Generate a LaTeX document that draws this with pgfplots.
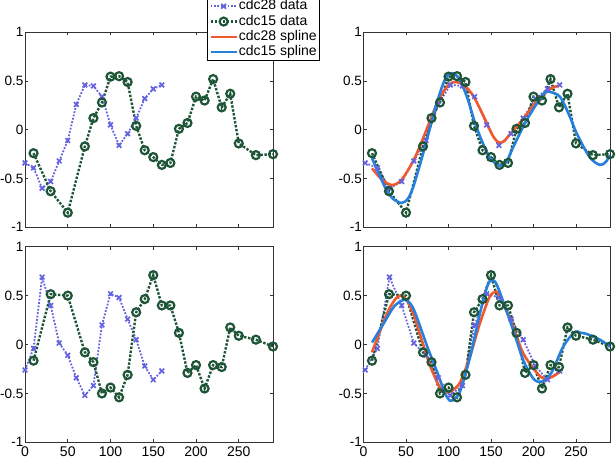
\documentclass[border=0pt]{standalone}
\usepackage{pgfplots}
\usepackage{pgfplotstable}
\pgfplotsset{compat=1.18}
\usepackage{fontspec}
\setmainfont{Liberation Sans}
\definecolor{c28}{RGB}{100,100,225}
\definecolor{c15}{RGB}{30,85,55}
\definecolor{s28}{RGB}{240,88,45}
\definecolor{s15}{RGB}{40,128,222}

% cdc28: t = original time, r = registered time, v = value
\pgfplotstableread{
t r v
0 2 -0.34
10 16.3 -0.39
20 30.6 -0.60
30 44.9 -0.53
40 59.2 -0.32
50 73.5 -0.11
60 87.8 0.26
70 102.1 0.46
80 116.4 0.45
90 130.7 0.34
100 145 0.05
110 159.3 -0.16
120 173.6 -0.04
130 187.9 0.12
140 202.2 0.32
150 216.5 0.42
160 230.8 0.46
}\topA
\pgfplotstableread{
t v
10 -0.24
30 -0.63
50 -0.85
70 -0.17
80 0.12
90 0.28
100 0.545
110 0.55
120 0.49
130 0.04
140 -0.21
150 -0.28
160 -0.36
170 -0.34
180 0.01
190 0.07
200 0.34
210 0.30
220 0.52
230 0.23
240 0.37
250 -0.14
270 -0.26
290 -0.25
}\topB
\pgfplotstableread{
t r v
0 2 -0.26
10 16.3 -0.04
20 30.6 0.69
30 44.9 0.40
40 59.2 0.015
50 73.5 -0.11
60 87.8 -0.34
70 102.1 -0.52
80 116.4 -0.42
90 130.7 0.20
100 145 0.52
110 159.3 0.48
120 173.6 0.26
130 187.9 0.05
140 202.2 -0.22
150 216.5 -0.36
160 230.8 -0.27
}\botA
\pgfplotstableread{
t v
10 -0.165
30 0.515
50 0.50
70 -0.08
80 -0.18
90 -0.50
100 -0.44
110 -0.54
120 -0.31
130 0.33
140 0.465
150 0.71
160 0.40
170 0.40
180 0.12
190 -0.29
200 -0.21
210 -0.45
220 -0.21
230 -0.23
240 0.175
250 0.09
270 0.05
290 -0.02
}\botB
% splines
\pgfplotstableread{
x y
10 -0.395
21.6 -0.51
33.4 -0.566
45 -0.51
61 -0.275
78.6 0.10
88.4 0.31
100 0.46
108 0.49
116 0.47
123.8 0.41
131.6 0.31
143.4 0.10
152 -0.06
159 -0.13
165 -0.12
171 -0.06
186.6 0.10
206.3 0.32
222 0.43
230 0.45
}\topS
\pgfplotstableread{
x y
10 -0.29
18 -0.45
26 -0.60
35 -0.71
45 -0.75
52 -0.71
58 -0.60
66 -0.37
74 -0.12
85 0.24
95 0.50
103 0.58
112 0.53
122 0.33
132 0.05
142 -0.17
150 -0.30
160 -0.37
168 -0.33
176 -0.18
192 0.10
211 0.36
218 0.39
231 0.34
242 0.15
251 -0.04
266 -0.28
278 -0.36
285 -0.33
290 -0.26
}\topT
\pgfplotstableread{
x y
10 -0.08
20 0.15
30 0.36
38 0.47
44 0.50
52 0.44
60 0.28
68 0.06
79 -0.23
90 -0.44
98 -0.49
106 -0.46
114 -0.38
125 -0.13
137 0.22
148 0.48
155 0.54
161 0.49
176 0.18
188 -0.09
204 -0.29
213 -0.35
222 -0.33
231 -0.28
}\botS
\pgfplotstableread{
x y
10 0.02
24 0.22
36 0.39
48 0.46
55 0.42
61 0.32
75 -0.02
87 -0.29
96 -0.50
102 -0.575
108 -0.55
114 -0.47
125.6 -0.12
137 0.32
145 0.58
150 0.66
155 0.64
161 0.52
176 0.15
188 -0.16
200 -0.35
209.6 -0.38
221 -0.29
235 -0.02
248.6 0.13
255 0.12
262 0.11
278 0.05
290 -0.02
}\botT

\pgfplotsset{
  base/.style={
    scale only axis, anchor=south west,
    xmin=0, xmax=290, ymin=-1, ymax=1,
    xtick={0,50,...,250}, ytick={-1,-0.5,0,0.5,1},
    tick align=inside, tick pos=both, major tick length=3pt,
    axis line style={line width=0.8pt, black!80},
    every tick/.style={black!80, line width=0.7pt},
    tick label style={font=\fontsize{14}{14}\selectfont},
    yticklabel style={font=\fontsize{13.5}{13.5}\selectfont, inner xsep=1.5pt},
    xticklabel style={yshift=-1pt},
    /pgf/number format/assume math mode=true,
  },
  d28/.style={color=c28, line width=1.8pt, dash pattern=on 1.8pt off 1.6pt,
    mark=x, mark size=3.3pt, mark options={solid, line width=1.7pt}},
  d15/.style={color=c15, line width=2.4pt, dash pattern=on 2.4pt off 1.6pt,
    mark=o, mark size=4pt, mark options={solid, line width=2.2pt, fill=white}},
  s28/.style={color=s28, line width=2.6pt, smooth, no marks, solid},
  s15/.style={color=s15, line width=2.6pt, smooth, no marks, solid},
}

\begin{document}
\begin{tikzpicture}
\path[use as bounding box] (0pt,0pt) rectangle (616pt,464pt);
% top left
\begin{axis}[base, at={(25pt,236.7pt)}, width=248pt, height=195pt, xticklabels={},
  legend style={at={(0.734,0.853)}, anchor=south west, draw=black, line width=0.6pt,
    fill=white, font=\fontsize{14}{14}\selectfont, row sep=0.3pt, inner xsep=2pt, inner ysep=1pt,
    nodes={inner sep=1pt, text height=10pt, text depth=3pt}},
  legend cell align=left,
  legend image code/.code={\draw[mark repeat=2,mark phase=2] plot coordinates {(0pt,0pt) (13pt,0pt) (26pt,0pt)};}]
\addplot[d28] table[x=t,y=v]{\topA};
\addplot[d15] table[x=t,y=v]{\topB};
\addlegendimage{s28}
\addlegendimage{s15}
\legend{cdc28 data, cdc15 data, cdc28 spline, cdc15 spline}
\end{axis}
% top right
\begin{axis}[base, at={(363.5pt,236.7pt)}, width=246.5pt, height=195pt, xticklabels={}]
\addplot[d28] table[x=r,y=v]{\topA};
\addplot[d15] table[x=t,y=v]{\topB};
\addplot[s28] table[x=x,y=y]{\topS};
\addplot[s15] table[x=x,y=y]{\topT};
\end{axis}
% bottom left
\begin{axis}[base, at={(25pt,21.7pt)}, width=248pt, height=195.5pt]
\addplot[d28] table[x=t,y=v]{\botA};
\addplot[d15] table[x=t,y=v]{\botB};
\end{axis}
% bottom right
\begin{axis}[base, at={(363.5pt,21.7pt)}, width=246.5pt, height=195.5pt]
\addplot[d28] table[x=r,y=v]{\botA};
\addplot[d15] table[x=t,y=v]{\botB};
\addplot[s28] table[x=x,y=y]{\botS};
\addplot[s15] table[x=x,y=y]{\botT};
\end{axis}
\end{tikzpicture}
\end{document}
